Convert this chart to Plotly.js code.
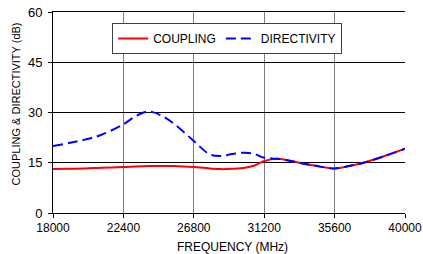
<!DOCTYPE html>
<html>
<head>
<meta charset="utf-8">
<script src="https://cdn.plot.ly/plotly-3.0.1.min.js"></script>
<style>html,body{margin:0;padding:0;background:#fff;overflow:hidden;}#chart{width:423px;height:254px;}</style>
</head>
<body>
<div id="chart"></div>
<script>
const freq = [18000, 19000, 20000, 21000, 22400, 23200, 24000, 24800, 25600, 26800, 27800, 28500, 29200, 30000, 30600, 31200, 32000, 32800, 33600, 34400, 35600, 36500, 37400, 38600, 40000];
const coupling = [13.1, 13.2, 13.3, 13.5, 13.7, 13.9, 14.0, 14.0, 14.0, 13.7, 13.3, 13.1, 13.2, 13.5, 14.2, 15.5, 16.2, 15.6, 14.8, 14.1, 13.3, 14.0, 15.0, 16.8, 19.2];
const directivity = [20.0, 20.9, 21.9, 23.3, 26.5, 29.0, 30.3, 29.0, 26.5, 21.5, 17.5, 17.0, 17.6, 18.0, 17.6, 16.5, 16.2, 15.6, 14.8, 14.1, 13.3, 14.0, 15.0, 16.8, 19.2];
const xTicks = [18000, 22400, 26800, 31200, 35600, 40000];
const yTicks = [0, 15, 30, 45, 60];
const xTitle = 'FREQUENCY (MHz)';
const yTitle = 'COUPLING &amp; DIRECTIVITY (dB)';

const FAM = 'Liberation Sans, Arial, sans-serif';
const font = {family: FAM, size: 12, color: '#000'};

const traces = [
  {x: freq, y: coupling, name: 'COUPLING', mode: 'lines',
   line: {color: '#FF0000', width: 2, shape: 'spline', smoothing: 1}},
  {x: freq, y: directivity, name: 'DIRECTIVITY', mode: 'lines',
   line: {color: '#0000FF', width: 2, shape: 'spline', smoothing: 1, dash: '10px,5px'}}
];

const layout = {
  width: 423, height: 254,
  margin: {l: 53, r: 18, t: 12, b: 41},
  paper_bgcolor: '#fff', plot_bgcolor: '#fff',
  font: font,
  showlegend: true,
  legend: {orientation: 'h', x: 0.168, y: 0.945, xanchor: 'left', yanchor: 'top',
           bgcolor: '#fff', bordercolor: '#404040', borderwidth: 1,
           font: font},
  xaxis: {range: [18000, 40000], tickvals: xTicks, ticktext: xTicks.map(String),
          showgrid: true, gridcolor: '#808080', gridwidth: 1,
          showline: true, mirror: true, linecolor: '#000', linewidth: 1,
          ticks: 'outside', ticklen: 4, tickcolor: '#000',
          zeroline: false, tickfont: font},
  yaxis: {range: [0, 60], tickvals: yTicks, ticktext: yTicks.map(String),
          showgrid: true, gridcolor: '#000', gridwidth: 1,
          showline: true, linecolor: '#000', linewidth: 1,
          ticks: 'outside', ticklen: 4, tickcolor: '#000',
          ticklabelstandoff: 3,
          zeroline: false, tickfont: {family: FAM, size: 13, color: '#000'}},
  annotations: [
    {text: xTitle, xref: 'paper', yref: 'paper', x: 0.51, y: 0, xanchor: 'center', yanchor: 'middle',
     yshift: -34, showarrow: false, font: font},
    {text: yTitle, xref: 'paper', yref: 'paper', x: 0, y: 0.54, xanchor: 'center', yanchor: 'middle',
     xshift: -37, textangle: -90, showarrow: false, font: {family: FAM, size: 11, color: '#000'}}
  ]
};

Plotly.newPlot('chart', traces, layout, {displayModeBar: false, staticPlot: true});
</script>
</body>
</html>
